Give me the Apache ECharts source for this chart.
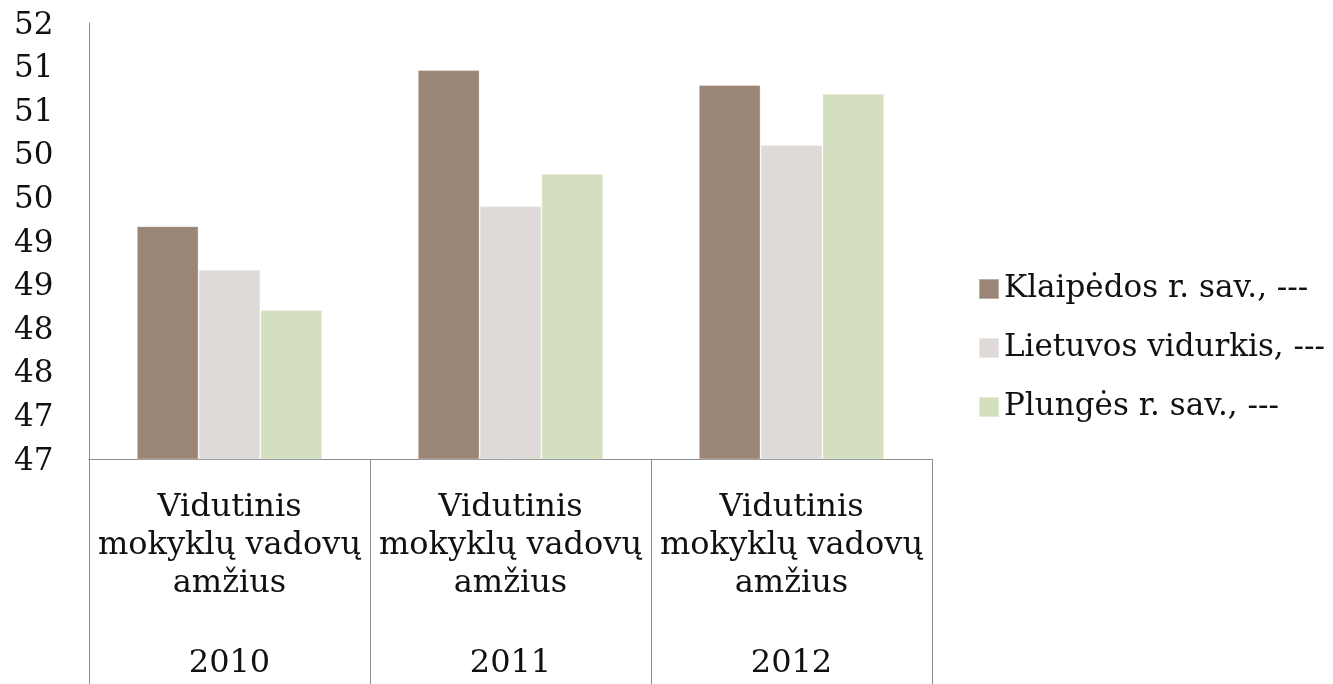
<!DOCTYPE html>
<html>
<head>
<meta charset="utf-8">
<script src="https://cdn.jsdelivr.net/npm/echarts@6/dist/echarts.min.js"></script>
<style>
  html, body { margin: 0; padding: 0; background: #fff; }
  #chart { width: 1333px; height: 684px; }
</style>
</head>
<body>
<div id="chart"></div>
<script>
// Average age of school heads by year
const years = ['2010', '2011', '2012'];
const groupLabel = ['Vidutinis', 'mokyklų vadovų', 'amžius'];
const seriesNames = ['Klaipėdos r. sav., ---', 'Lietuvos vidurkis, ---', 'Plungės r. sav., ---'];
const klaipedos = [49.67, 51.46, 51.29];
const lietuvos = [49.17, 49.90, 50.60];
const plunges = [48.71, 50.27, 51.19];
const colors = ['#9a8576', '#dfdad7', '#d3dfbe'];

const FONT = 'DejaVu Serif';
const chart = echarts.init(document.getElementById('chart'), null, { renderer: 'canvas' });

const seriesData = [klaipedos, lietuvos, plunges];

chart.setOption({
  animation: false,
  grid: { left: 89, right: 401, top: 23, bottom: 225, containLabel: false },
  legend: {
    orient: 'vertical',
    left: 973,
    top: 267,
    itemWidth: 20,
    itemHeight: 20,
    itemGap: 25,
    icon: 'rect',
    data: seriesNames,
    textStyle: { fontFamily: FONT, fontSize: 31, lineHeight: 34, color: '#111' }
  },
  xAxis: {
    type: 'category',
    data: years,
    axisLine: { show: true, lineStyle: { color: '#8c8c8c', width: 1 } },
    axisTick: { show: true, length: 225, lineStyle: { color: '#8c8c8c', width: 1 } },
    axisLabel: {
      margin: 30,
      interval: 0,
      formatter: function (v) {
        return groupLabel.map(function (s) { return '{g|' + s + '}'; }).join('\n') + '\n{gap|}\n{y|' + v + '}';
      },
      rich: {
        g: { fontFamily: FONT, fontSize: 32, lineHeight: 38, color: '#111' },
        gap: { fontSize: 10, lineHeight: 40 },
        y: { fontFamily: FONT, fontSize: 32, lineHeight: 42, color: '#111' }
      }
    }
  },
  yAxis: {
    type: 'value',
    min: 47,
    max: 52,
    interval: 0.5,
    axisLine: { show: true, lineStyle: { color: '#8c8c8c', width: 1 } },
    axisTick: { show: false },
    splitLine: { show: false },
    axisLabel: {
      margin: 75,
      align: 'left',
      fontFamily: FONT,
      fontSize: 31,
      color: '#111',
      formatter: function (v) { return '{n|' + Math.floor(v) + '}'; },
      rich: {
        n: { fontFamily: FONT, fontSize: 31, color: '#111', padding: [5, 0, 0, 0] }
      }
    }
  },
  series: seriesNames.map(function (name, i) {
    return {
      name: name,
      type: 'bar',
      data: seriesData[i],
      barGap: '0%',
      barCategoryGap: '34%',
      itemStyle: { color: colors[i], borderColor: 'rgba(255,255,255,0.35)', borderWidth: 1 }
    };
  })
});
</script>
</body>
</html>
